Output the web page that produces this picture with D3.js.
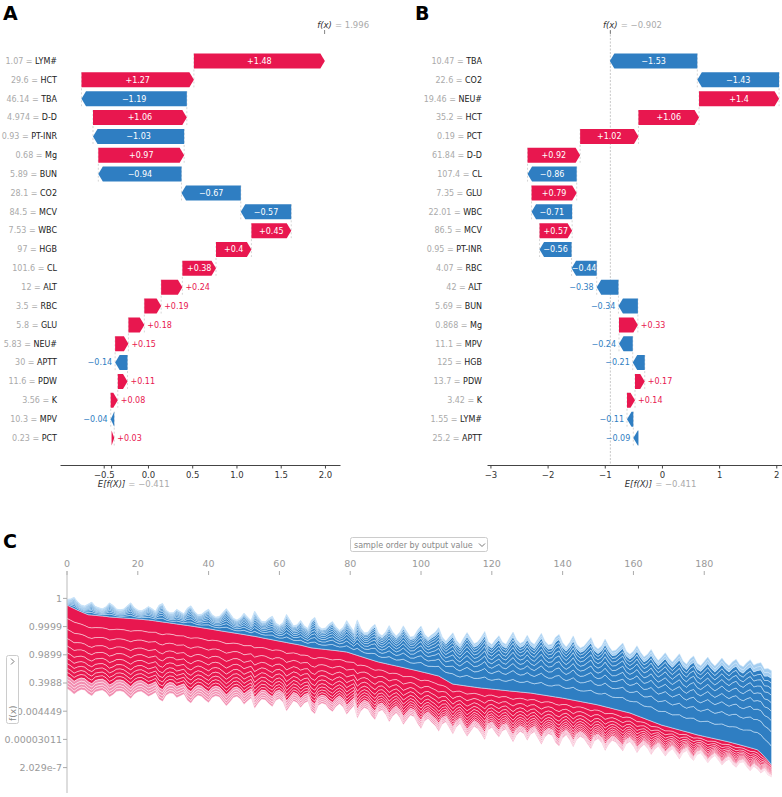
<!DOCTYPE html>
<html>
<head>
<meta charset="utf-8">
<script src="https://cdn.jsdelivr.net/npm/d3@7"></script>
<style>
  body { margin: 0; background: #fff; }
  svg text { font-family: "DejaVu Sans", sans-serif; }
</style>
</head>
<body>
<svg id="fig" width="782" height="797"></svg>
<script>
// ---- data: panel A (waterfall) ----
const featuresA = ["LYM#", "HCT", "TBA", "D-D", "PT-INR", "Mg", "BUN", "CO2", "MCV", "WBC", "HGB",
    "CL", "ALT", "RBC", "GLU", "NEU#", "APTT", "PDW", "K", "MPV", "PCT"];
const valuesA = ["1.07", "29.6", "46.14", "4.974", "0.93", "0.68", "5.89", "28.1", "84.5", "7.53", "97",
    "101.6", "12", "3.5", "5.8", "5.83", "30", "11.6", "3.56", "10.3", "0.23"];
const shapA = [1.48, 1.27, -1.19, 1.06, -1.03, 0.97, -0.94, -0.67, -0.57, 0.45, 0.4,
    0.38, 0.24, 0.19, 0.18, 0.15, -0.14, 0.11, 0.08, -0.04, 0.03];
const fxA = 1.996;
const ticksA = [-0.5, 0, 0.5, 1, 1.5, 2];

// ---- data: panel B (waterfall) ----
const featuresB = ["TBA", "CO2", "NEU#", "HCT", "PCT", "D-D", "CL", "GLU", "WBC", "MCV", "PT-INR",
    "RBC", "ALT", "BUN", "Mg", "MPV", "HGB", "PDW", "K", "LYM#", "APTT"];
const valuesB = ["10.47", "22.6", "19.46", "35.2", "0.19", "61.84", "107.4", "7.35", "22.01", "86.5", "0.95",
    "4.07", "42", "5.69", "0.868", "11.1", "125", "13.7", "3.42", "1.55", "25.2"];
const shapB = [-1.53, -1.43, 1.4, 1.06, 1.02, 0.92, -0.86, 0.79, -0.71, 0.57, -0.56,
    -0.44, -0.38, -0.34, 0.33, -0.24, -0.21, 0.17, 0.14, -0.11, -0.09];
const fxB = -0.902;
const ticksB = [-3, -2, -1, 0, 1, 2];

const baseValue = -0.411;

// ---- data: panel C (force array, log-odds, samples ordered by output) ----
const sampleTicks = [0, 20, 40, 60, 80, 100, 120, 140, 160, 180];
const outputTickOffsets = [15, 10, 5, 0, -5, -10, -15];
const outputTickLabels = ["1", "0.9999", "0.9899", "0.3988", "0.004449", "0.00003011", "2.029e-7"];
const outputFx = [
    13.42, 13.10, 12.80, 12.50, 12.22, 11.95, 11.70, 11.64, 11.58, 11.52,
    11.46, 11.40, 11.30, 11.26, 11.21, 11.16, 11.12, 11.07, 11.02, 10.98,
    10.93, 10.88, 10.82, 10.76, 10.68, 10.60, 10.50, 10.41, 10.33, 10.24,
    10.15, 10.06, 9.97, 9.88, 9.79, 9.70, 9.60, 9.50, 9.40, 9.30,
    9.20, 9.10, 8.99, 8.88, 8.78, 8.68, 8.58, 8.48, 8.38, 8.28,
    8.18, 8.07, 7.96, 7.86, 7.75, 7.62, 7.49, 7.37, 7.25, 7.13,
    7.01, 6.89, 6.77, 6.65, 6.53, 6.42, 6.30, 6.14, 5.98, 5.82,
    5.75, 5.68, 5.61, 5.54, 5.47, 5.40, 5.33, 5.25, 5.17, 5.09,
    4.89, 4.69, 4.49, 4.29, 4.09, 3.89, 3.69, 3.50, 3.31, 3.17,
    3.03, 2.89, 2.75, 2.61, 2.47, 2.33, 2.18, 2.04, 1.90, 1.75,
    1.60, 1.45, 1.30, 1.14, 0.98, 0.83, 0.46, 0.10, -0.26, -0.60,
    -0.69, -0.78, -0.87, -0.96, -1.05, -1.13, -1.22, -1.30, -1.36, -1.43,
    -1.49, -1.56, -1.62, -1.69, -1.75, -1.82, -1.88, -1.94, -2.01, -2.07,
    -2.13, -2.19, -2.29, -2.39, -2.49, -2.59, -2.69, -2.79, -2.89, -2.99,
    -3.09, -3.21, -3.33, -3.45, -3.57, -3.69, -3.81, -3.93, -4.05, -4.17,
    -4.30, -4.46, -4.62, -4.77, -4.93, -5.09, -5.25, -5.41, -5.57, -5.72,
    -5.96, -6.20, -6.44, -6.68, -6.92, -7.16, -7.40, -7.64, -7.88, -8.05,
    -8.22, -8.39, -8.56, -8.73, -8.90, -9.07, -9.24, -9.42, -9.60, -9.74,
    -9.88, -10.02, -10.16, -10.30, -10.44, -10.58, -10.72, -10.86, -11.03, -11.20,
    -11.37, -11.54, -11.71, -11.88, -12.05, -12.25, -12.80, -13.45, -14.15, -14.95
];
// total of the negative (blue) effects per sample
const negTotal = [
    1.0, 1.4, 2.0, 1.5, 1.2, 1.3, 1.9, 2.3, 1.6, 1.4,
    1.3, 1.7, 2.5, 2.1, 1.5, 1.4, 1.6, 2.2, 2.8, 2.0,
    1.6, 1.5, 1.9, 2.4, 2.1, 1.7, 2.9, 3.3, 2.2, 1.8,
    1.9, 2.6, 2.3, 2.0, 3.1, 3.6, 2.7, 2.2, 2.4, 3.0,
    3.5, 2.6, 2.3, 2.5, 3.3, 4.1, 3.4, 2.6, 2.4, 2.9,
    3.8, 3.2, 2.7, 4.5, 3.6, 2.9, 3.0, 3.7, 4.2, 3.1,
    2.8, 3.4, 5.0, 4.1, 3.2, 3.5, 4.4, 3.6, 3.3, 4.9,
    5.5, 4.0, 3.6, 3.8, 4.6, 5.1, 4.2, 3.7, 4.3, 5.6,
    4.8, 4.1, 6.3, 5.0, 4.4, 4.7, 5.8, 6.5, 5.1, 4.8,
    5.6, 6.9, 5.9, 5.3, 6.1, 7.4, 6.5, 5.7, 6.0, 7.2,
    8.1, 6.8, 6.3, 7.0, 7.6, 8.6, 7.3, 6.9, 8.0, 9.1,
    7.8, 7.2, 8.4, 9.5, 8.6, 7.7, 8.1, 9.0, 10.1, 8.3,
    7.9, 8.8, 9.6, 8.5, 8.2, 9.4, 10.5, 9.2, 8.6, 9.0,
    10.2, 9.1, 8.7, 9.8, 10.9, 9.6, 9.0, 9.3, 10.6, 11.2,
    9.8, 9.2, 10.1, 11.4, 10.0, 9.5, 9.9, 10.8, 11.7, 10.3,
    9.9, 10.6, 12.0, 10.9, 10.2, 10.5, 11.3, 12.1, 10.8, 10.4,
    11.2, 12.4, 11.5, 10.9, 11.6, 12.7, 11.8, 11.2, 12.1, 13.0,
    12.2, 11.7, 12.6, 13.5, 12.4, 12.0, 13.1, 13.8, 12.7, 12.4,
    13.3, 14.2, 13.4, 12.9, 13.7, 14.6, 13.9, 13.5, 14.4, 15.0,
    14.2, 14.0, 14.9, 15.6, 14.8, 15.3, 16.0, 15.5, 16.3, 16.7
];
// average share of each feature layer within the red / blue stacks
const posShares = [0.16, 0.13, 0.11, 0.09, 0.08, 0.07, 0.06, 0.055, 0.05, 0.045, 0.04, 0.04, 0.035, 0.035];
const negShares = [0.2, 0.15, 0.12, 0.1, 0.09, 0.08, 0.07, 0.06, 0.05, 0.04, 0.04];

// ---- drawing ----
const RED = '#e8174f', BLUE = '#2f7ec2', PINK = '#f28db0', LIGHTBLUE = '#a3cdf0';
const svg = d3.select('#fig');
const rowTop = 61, rowStep = 18.85, barH = 15, axisY = 465;
const sans = '"Liberation Sans", Arial, sans-serif';

function fmtEffect(v) {
    return (v > 0 ? '+' : '\u2212') + Math.abs(v);
}

function arrowPath(x0, x1, yc) {
    const dir = x1 >= x0 ? 1 : -1,
        w = Math.abs(x1 - x0),
        hl = Math.min(4.5, w),
        yt = yc - barH / 2,
        yb = yc + barH / 2;
    return `M${x0},${yt}L${x1 - dir * hl},${yt}L${x1},${yc}L${x1 - dir * hl},${yb}L${x0},${yb}Z`;
}

function waterfall(o) {
    const g = svg.append('g'),
        x = d3.scaleLinear().domain(o.domain).range(o.range),
        n = o.shap.length,
        rowY = i => rowTop + i * rowStep,
        bars = [];

    let cum = baseValue;
    for (let i = n - 1; i >= 0; i--) {
        bars[i] = { i: i, v: o.shap[i], start: cum, end: cum + o.shap[i] };
        cum += o.shap[i];
    }

    if (o.fxLine) {
        g.append('line')
            .attr('x1', x(o.fx)).attr('x2', x(o.fx))
            .attr('y1', 31).attr('y2', axisY)
            .attr('stroke', '#bbb').attr('stroke-width', 0.8)
            .attr('stroke-dasharray', '2,1.5');
    }

    // dashed connectors between consecutive bars
    bars.slice(0, -1).forEach(b => {
        g.append('line')
            .attr('x1', x(b.start)).attr('x2', x(b.start))
            .attr('y1', rowY(b.i) - barH / 2).attr('y2', rowY(b.i + 1) + barH / 2)
            .attr('stroke', '#bbb').attr('stroke-width', 0.6)
            .attr('stroke-dasharray', '2,2');
    });

    // x axis
    const ax = g.append('g')
        .attr('transform', `translate(0,${axisY})`)
        .call(d3.axisBottom(x).tickValues(o.ticks).tickFormat(o.fmt).tickSize(3.5).tickSizeOuter(0));
    ax.select('.domain').attr('stroke', '#444');
    ax.selectAll('.tick line').attr('stroke', '#444');
    ax.selectAll('.tick text')
        .attr('fill', '#333')
        .attr('font-size', 8.5)
        .attr('font-family', '"DejaVu Sans", sans-serif');

    // E[f(X)] tick and label
    g.append('line')
        .attr('x1', x(baseValue)).attr('x2', x(baseValue))
        .attr('y1', axisY).attr('y2', axisY + 3.5)
        .attr('stroke', '#444');
    const eLab = g.append('text')
        .attr('x', x(baseValue)).attr('y', axisY + 22)
        .attr('text-anchor', 'middle')
        .attr('font-size', 8.5).attr('fill', '#333')
        .attr('font-style', 'italic')
        .text('E[f(X)]');
    const ew = eLab.node().getComputedTextLength();
    g.append('text')
        .attr('x', x(baseValue) + ew / 2 + 3).attr('y', axisY + 22)
        .attr('font-size', 8.5).attr('fill', '#aaa')
        .text('= ' + d3.format('.3f')(baseValue));

    // f(x) tick and label
    g.append('line')
        .attr('x1', x(o.fx)).attr('x2', x(o.fx))
        .attr('y1', 30).attr('y2', 34)
        .attr('stroke', '#666').attr('stroke-width', 0.8);
    const fLab = g.append('text')
        .attr('x', x(o.fx)).attr('y', 28)
        .attr('text-anchor', 'middle')
        .attr('font-size', 8.5).attr('fill', '#333')
        .attr('font-style', 'italic')
        .text('f(x)');
    const fw = fLab.node().getComputedTextLength();
    g.append('text')
        .attr('x', x(o.fx) + fw / 2 + 3).attr('y', 28)
        .attr('font-size', 8.5).attr('fill', '#aaa')
        .text('= ' + d3.format('.3f')(o.fx));

    // feature labels
    g.selectAll('text.feat')
        .data(bars)
        .join('text')
        .attr('class', 'feat')
        .attr('x', o.labelX)
        .attr('y', d => rowY(d.i))
        .attr('dy', '0.35em')
        .attr('text-anchor', 'end')
        .attr('font-size', 8)
        .each(function (d) {
            const t = d3.select(this);
            t.append('tspan').attr('fill', '#aaa').text(o.values[d.i] + ' = ');
            t.append('tspan').attr('fill', '#222').text(o.features[d.i]);
        });

    // bars
    const bar = g.selectAll('g.bar')
        .data(bars)
        .join('g')
        .attr('class', 'bar');

    bar.append('path')
        .attr('d', d => arrowPath(x(d.start), x(d.end), rowY(d.i)))
        .attr('fill', d => d.v > 0 ? RED : BLUE);

    bar.append('text')
        .attr('font-size', 8)
        .attr('y', d => rowY(d.i))
        .attr('dy', '0.36em')
        .text(d => fmtEffect(d.v))
        .each(function (d) {
            const t = d3.select(this),
                w = this.getComputedTextLength(),
                x0 = x(d.start),
                x1 = x(d.end);
            if (w < Math.abs(x1 - x0)) {
                t.attr('x', (x0 + x1) / 2).attr('text-anchor', 'middle').attr('fill', '#fff');
            } else if (d.v > 0) {
                t.attr('x', x1 + 3).attr('text-anchor', 'start').attr('fill', RED);
            } else {
                t.attr('x', x1 - 3).attr('text-anchor', 'end').attr('fill', BLUE);
            }
        });
}

waterfall({
    features: featuresA, values: valuesA, shap: shapA, fx: fxA,
    domain: [-0.994, 2.17], range: [60, 340], ticks: ticksA, fmt: d3.format('.1f'),
    labelX: 57, fxLine: false
});

waterfall({
    features: featuresB, values: valuesB, shap: shapB, fx: fxB,
    domain: [-3.06, 2.24], range: [487, 790], ticks: ticksB, fmt: d3.format('d'),
    labelX: 482, fxLine: true
});

// ---- panel C ----
const gC = svg.append('g');
const xC = d3.scaleLinear().domain([0, outputFx.length - 1]).range([67, 771.5]);
const yC = d3.scaleLinear().domain([baseValue - 20, baseValue + 20]).range([795.8, 570.2]);

const samples = outputFx.map((fx, i) => ({
    i: i,
    fx: fx,
    neg: negTotal[i],
    pos: fx - baseValue + negTotal[i]
}));

const posCum = d3.cumsum(posShares), posSum = d3.sum(posShares);
posShares.forEach((s, k) => {
    const a = k ? posCum[k - 1] / posSum : 0,
        b = posCum[k] / posSum,
        area = d3.area()
            .x(d => xC(d.i))
            .y0(d => yC(d.fx - d.pos * b))
            .y1(d => yC(d.fx - d.pos * a));
    gC.append('path')
        .datum(samples)
        .attr('d', area)
        .attr('fill', k >= posShares.length - 4 ? PINK : RED)
        .attr('stroke', '#fff')
        .attr('stroke-opacity', 0.55)
        .attr('stroke-width', 0.8);
});

const negCum = d3.cumsum(negShares), negSum = d3.sum(negShares);
negShares.forEach((s, k) => {
    const a = k ? negCum[k - 1] / negSum : 0,
        b = negCum[k] / negSum,
        area = d3.area()
            .x(d => xC(d.i))
            .y0(d => yC(d.fx + d.neg * a))
            .y1(d => yC(d.fx + d.neg * b));
    gC.append('path')
        .datum(samples)
        .attr('d', area)
        .attr('fill', k >= negShares.length - 2 ? LIGHTBLUE : BLUE)
        .attr('stroke', '#cfe6fa')
        .attr('stroke-opacity', 0.7)
        .attr('stroke-width', 0.8);
});

// top sample axis (ticks only)
gC.selectAll('line.stick')
    .data(sampleTicks)
    .join('line')
    .attr('x1', d => xC(d)).attr('x2', d => xC(d))
    .attr('y1', 571).attr('y2', 575)
    .attr('stroke', '#aaa');
gC.selectAll('text.stick')
    .data(sampleTicks)
    .join('text')
    .attr('x', d => xC(d)).attr('y', 567)
    .attr('text-anchor', 'middle')
    .attr('font-family', sans)
    .attr('font-size', 9.5)
    .attr('fill', '#999')
    .text(d => d);

// left output axis
gC.append('line')
    .attr('x1', 67).attr('x2', 67)
    .attr('y1', 571).attr('y2', 793)
    .attr('stroke', '#bbb');
gC.selectAll('line.otick')
    .data(outputTickOffsets)
    .join('line')
    .attr('x1', 63).attr('x2', 67)
    .attr('y1', d => yC(baseValue + d)).attr('y2', d => yC(baseValue + d))
    .attr('stroke', '#aaa');
gC.selectAll('text.otick')
    .data(outputTickOffsets)
    .join('text')
    .attr('x', 62)
    .attr('y', d => yC(baseValue + d))
    .attr('dy', '0.35em')
    .attr('text-anchor', 'end')
    .attr('font-family', sans)
    .attr('font-size', 9.5)
    .attr('fill', '#999')
    .text((d, i) => outputTickLabels[i]);

// order selector
gC.append('rect')
    .attr('x', 350.5).attr('y', 537.5).attr('width', 137).attr('height', 14)
    .attr('rx', 2).attr('fill', '#fff').attr('stroke', '#ccc');
gC.append('text')
    .attr('x', 354).attr('y', 547.5)
    .attr('font-family', sans).attr('font-size', 8).attr('fill', '#888')
    .text('sample order by output value');
gC.append('path')
    .attr('d', 'M479,543.5l3,3l3,-3')
    .attr('fill', 'none').attr('stroke', '#777').attr('stroke-width', 1);

// output selector (rotated)
gC.append('rect')
    .attr('x', 6.5).attr('y', 655.5).attr('width', 12).attr('height', 68)
    .attr('rx', 2).attr('fill', '#fff').attr('stroke', '#ccc');
gC.append('path')
    .attr('d', 'M11,658.5l3,3l-3,3')
    .attr('fill', 'none').attr('stroke', '#777').attr('stroke-width', 1);
gC.append('text')
    .attr('transform', 'translate(15.5,721) rotate(-90)')
    .attr('font-family', sans).attr('font-size', 9).attr('fill', '#888')
    .text('f(x)');

// panel letters
[['A', 3, 20], ['B', 415, 20], ['C', 3, 548]].forEach(([t, px, py]) => {
    svg.append('text')
        .attr('x', px).attr('y', py)
        .attr('font-family', sans)
        .attr('font-weight', 'bold')
        .attr('font-size', 19)
        .attr('fill', '#000')
        .text(t);
});
</script>
</body>
</html>
